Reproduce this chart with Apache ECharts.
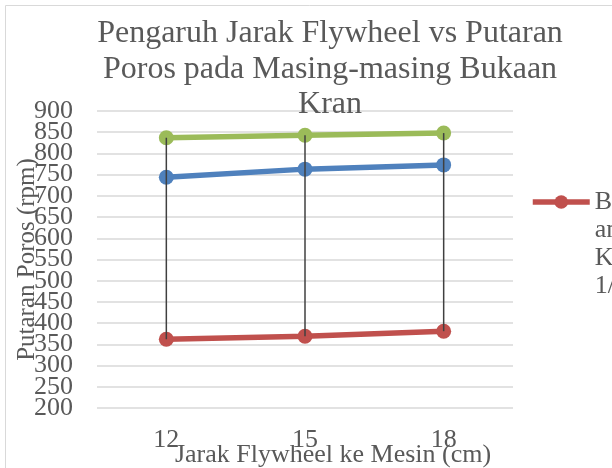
<!DOCTYPE html>
<html>
<head>
<meta charset="utf-8">
<script src="https://cdn.jsdelivr.net/npm/echarts@6/dist/echarts.min.js"></script>
<style>
  html, body { margin: 0; padding: 0; background: #fff; }
  #main { width: 612px; height: 468px; }
</style>
</head>
<body>
<div id="main"></div>
<script>
// jarak flywheel ke mesin (cm)
let categories = ['12', '15', '18'];

// putaran poros (rpm) tiap bukaan kran
let bukaan14 = [362, 369, 381];
let bukaan12 = [744, 763, 773];
let bukaanPenuh = [837, 843, 848];

let seriesNames = ['Bukaan Kran 1/4', 'Bukaan Kran 1/2', 'Bukaan Kran Penuh'];
let colors = ['#C0504D', '#4F81BD', '#9BBB59'];

let yMin = 200, yMax = 900, yStep = 50;

let font = 'Liberation Serif';
let textColor = '#595959';

// garis high-low: dari nilai terendah ke tertinggi di tiap kategori
let highLow = categories.map(function (c, i) {
    let vals = [bukaan14[i], bukaan12[i], bukaanPenuh[i]];
    return [i, Math.min.apply(null, vals), Math.max.apply(null, vals)];
});

function lineSeries(name, data, color) {
    return {
        name: name,
        type: 'line',
        data: data,
        symbol: 'circle',
        symbolSize: 15,
        color: color,
        lineStyle: {width: 5.5, color: color},
        itemStyle: {color: color},
        z: 2
    };
}

let labelStyle = {
    margin: 24,
    fontFamily: font,
    fontSize: 26,
    color: textColor
};

let chart = echarts.init(document.getElementById('main'));
chart.setOption({
    animation: false,
    title: {
        text: 'Pengaruh Jarak Flywheel vs Putaran\nPoros pada Masing-masing Bukaan\nKran',
        left: 325,
        top: 11,
        textAlign: 'center',
        textStyle: {
            fontFamily: font,
            fontSize: 32,
            fontWeight: 'normal',
            color: textColor,
            lineHeight: 35.5
        }
    },
    legend: {
        data: [seriesNames[0]],
        left: 525,
        top: 99,
        itemWidth: 57,
        itemHeight: 17,
        lineStyle: {width: 5.5},
        formatter: function (name) {
            // tiga baris kosong di depan supaya baris pertama sejajar ikon
            return '\n\n\nBuka\nan\nKran\n1/4';
        },
        textStyle: {
            fontFamily: font,
            fontSize: 26,
            lineHeight: 28,
            color: textColor
        }
    },
    graphic: [{
        type: 'rect',
        shape: {x: 5.5, y: 5.5, width: 640, height: 500},
        style: {fill: 'none', stroke: '#d9d9d9', lineWidth: 1}
    }],
    grid: {left: 97, right: 99, top: 111, bottom: 60, outerBoundsMode: 'none', containLabel: false},
    xAxis: {
        type: 'category',
        data: categories,
        boundaryGap: true,
        axisLine: {show: false},
        axisTick: {show: false},
        axisLabel: {
            margin: 19,
            fontFamily: font,
            fontSize: 26,
            color: textColor
        },
        name: 'Jarak Flywheel ke Mesin (cm)',
        nameLocation: 'middle',
        nameGap: 34,
        nameMoveOverlap: false,
        nameTextStyle: {
            fontFamily: font,
            fontSize: 26,
            color: textColor,
            padding: [0, 0, 0, 56]
        }
    },
    yAxis: [{
        type: 'value',
        min: yMin,
        max: yMax,
        interval: yStep,
        axisLine: {show: false},
        axisTick: {show: false},
        splitLine: {lineStyle: {color: '#d9d9d9', width: 1.5}},
        // label ujung digambar oleh sumbu kedua, supaya label di sebelahnya tidak disembunyikan
        axisLabel: Object.assign({showMinLabel: false, showMaxLabel: false}, labelStyle),
        name: 'Putaran Poros (rpm)',
        nameLocation: 'middle',
        nameRotate: 90,
        nameGap: 57,
        nameMoveOverlap: false,
        nameTextStyle: {
            fontFamily: font,
            fontSize: 25,
            color: textColor
        }
    }, {
        type: 'value',
        position: 'left',
        min: yMin,
        max: yMax,
        interval: yMax - yMin,
        axisLine: {show: false},
        axisTick: {show: false},
        splitLine: {show: false},
        axisLabel: labelStyle
    }],
    series: [
        lineSeries(seriesNames[0], bukaan14, colors[0]),
        lineSeries(seriesNames[1], bukaan12, colors[1]),
        lineSeries(seriesNames[2], bukaanPenuh, colors[2]),
        {
            type: 'custom',
            name: 'high-low',
            data: highLow,
            encode: {x: 0, y: [1, 2]},
            z: 5,
            silent: true,
            renderItem: function (params, api) {
                let lo = api.coord([api.value(0), api.value(1)]);
                let hi = api.coord([api.value(0), api.value(2)]);
                return {
                    type: 'line',
                    shape: {x1: lo[0], y1: lo[1], x2: hi[0], y2: hi[1]},
                    style: {stroke: '#404040', lineWidth: 1.5}
                };
            }
        }
    ]
});
</script>
</body>
</html>
